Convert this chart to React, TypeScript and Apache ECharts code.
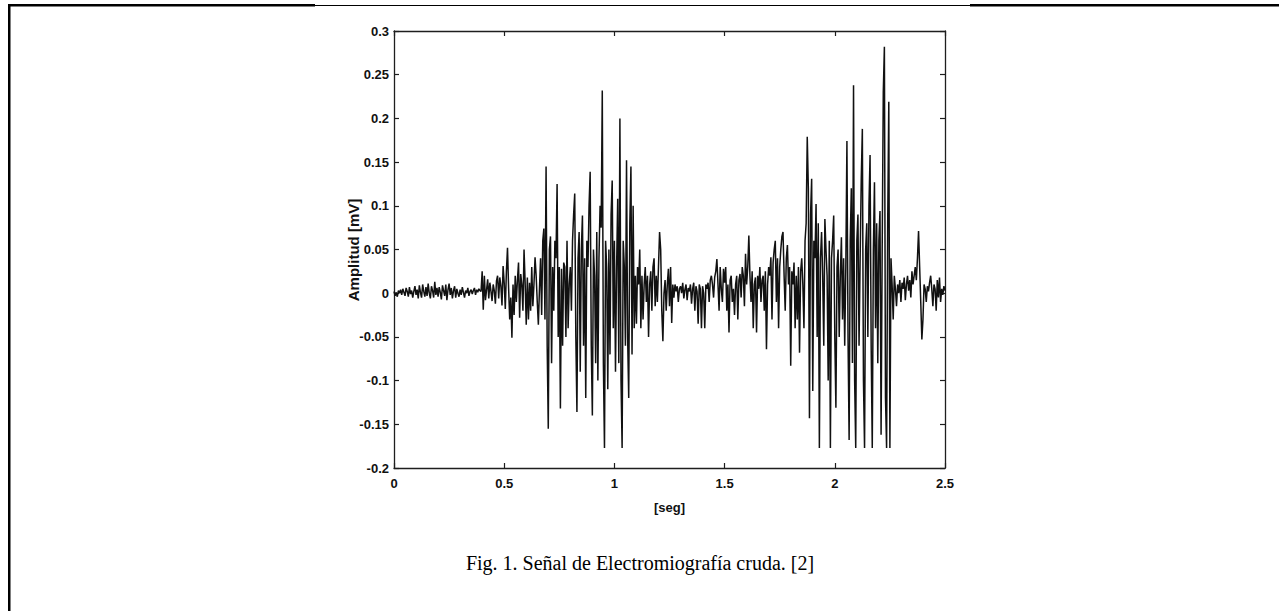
import React, { useEffect, useRef } from "react";
import * as echarts from "echarts";

// Sampled EMG signal (seconds, mV), one value every SAMPLE_STEP seconds from 0 to 2.5 s
const SAMPLE_STEP = 0.005;
const emgValues: number[] = [
  // 0.00
  0.002, -0.003, 0.001, -0.004, 0.003, 0.0, 0.004, -0.002, 0.005, 0.001,
  -0.003, 0.006, 0.002, -0.004, 0.007, -0.001, 0.003, -0.005, 0.002, 0.008,
  // 0.10
  -0.002, 0.004, -0.006, 0.009, 0.001, -0.005, 0.01, 0.002, -0.004, 0.007,
  -0.003, 0.011, 0.0, -0.006, 0.008, 0.003, -0.005, 0.013, -0.002, 0.006,
  // 0.20
  -0.004, 0.007, 0.001, -0.007, 0.009, 0.003, -0.003, 0.01, -0.008, 0.004,
  0.011, -0.002, 0.006, -0.006, 0.003, 0.008, -0.005, 0.005, 0.0, -0.004,
  // 0.30
  0.004, -0.002, 0.007, 0.001, -0.005, 0.003, 0.0, 0.006, -0.003, 0.002,
  0.004, -0.001, 0.003, 0.006, -0.002, 0.004, 0.001, 0.005, 0.003, 0.002,
  // 0.40
  0.025, -0.019, 0.02, -0.008, 0.004, 0.016, -0.006, 0.012, 0.002, -0.009,
  0.01, 0.003, -0.012, 0.014, 0.02, -0.006, 0.018, 0.008, -0.014, 0.031,
  // 0.50
  0.012, -0.018, 0.025, 0.052, 0.006, -0.03, -0.005, -0.051, 0.01, -0.025,
  0.02, -0.01, 0.015, 0.035, -0.028, 0.022, 0.01, -0.02, 0.05, 0.012,
  // 0.60
  -0.036, 0.018, -0.03, 0.012, -0.02, 0.03, -0.015, 0.01, 0.041, 0.02,
  -0.01, -0.036, 0.005, 0.04, -0.025, 0.06, 0.074, -0.03, 0.145, -0.06,
  // 0.70
  -0.155, 0.05, 0.065, -0.08, 0.03, -0.02, 0.06, 0.04, 0.125, -0.05,
  0.03, -0.132, 0.028, -0.06, 0.035, 0.03, -0.05, 0.06, -0.04, 0.01,
  // 0.80
  0.03, -0.02, 0.06, 0.09, 0.114, -0.05, -0.136, 0.04, 0.07, -0.09,
  0.05, 0.089, -0.06, 0.04, -0.12, 0.06, 0.03, 0.1, 0.139, -0.06,
  // 0.90
  -0.14, 0.05, 0.02, -0.08, 0.07, -0.1, 0.04, 0.1, 0.075, 0.232,
  -0.08, -0.177, 0.06, 0.03, -0.11, 0.05, -0.07, 0.09, 0.129, -0.04,
  // 1.00
  0.06, -0.09, 0.03, 0.108, -0.08, 0.2, -0.1, -0.177, 0.06, 0.03,
  -0.06, 0.152, -0.05, -0.12, 0.08, 0.145, -0.07, 0.1, -0.04, 0.02,
  // 1.10
  -0.035, 0.03, 0.01, 0.05, -0.04, 0.02, -0.03, 0.01, 0.03, -0.01,
  0.02, -0.05, 0.01, 0.025, -0.02, 0.03, 0.04, -0.015, 0.02, -0.01,
  // 1.20
  0.03, 0.07, 0.05, -0.02, -0.055, 0.0, 0.015, -0.02, 0.01, 0.028,
  -0.015, 0.03, -0.034, 0.01, -0.005, 0.01, 0.002, 0.008, -0.01, 0.005,
  // 1.30
  0.008, 0.0, 0.012, -0.006, 0.004, 0.01, -0.008, 0.006, 0.002, 0.01,
  -0.012, 0.005, 0.012, -0.02, 0.008, 0.002, -0.035, 0.01, 0.005, -0.04,
  // 1.40
  0.008, 0.0, -0.04, 0.01, 0.005, 0.012, -0.01, 0.015, 0.02, 0.01,
  -0.005, 0.018, 0.025, 0.039, 0.01, -0.02, 0.03, 0.005, -0.01, 0.028,
  // 1.50
  0.012, 0.03, -0.02, 0.01, -0.045, 0.015, 0.02, -0.01, 0.005, -0.025,
  0.01, 0.02, -0.03, 0.015, 0.022, -0.005, 0.03, 0.02, -0.015, 0.045,
  // 1.60
  0.01, 0.03, 0.066, 0.02, -0.01, 0.025, -0.04, 0.01, 0.018, -0.045,
  0.02, 0.005, 0.03, -0.01, 0.015, 0.02, -0.02, 0.025, -0.064, 0.01,
  // 1.70
  0.03, 0.02, 0.041, -0.03, 0.035, 0.05, 0.06, -0.01, 0.04, -0.04,
  0.03, 0.05, 0.065, 0.07, 0.02, -0.02, 0.04, 0.055, 0.01, 0.03,
  // 1.80
  -0.083, 0.025, 0.01, 0.035, -0.04, 0.02, -0.03, 0.03, -0.068, 0.025,
  0.04, 0.01, -0.04, 0.06, 0.08, 0.179, 0.12, -0.143, 0.09, 0.131,
  // 1.90
  -0.112, 0.06, 0.04, 0.102, -0.05, 0.08, -0.177, 0.04, 0.07, 0.02,
  -0.06, 0.085, 0.05, 0.02, -0.1, 0.06, -0.177, 0.04, 0.06, 0.089,
  // 2.00
  -0.05, -0.131, 0.03, 0.05, -0.05, 0.02, 0.064, -0.03, 0.04, -0.06,
  0.03, 0.174, -0.05, -0.168, 0.06, 0.12, -0.08, 0.238, -0.1, -0.177,
  // 2.10
  0.06, 0.09, -0.06, 0.04, 0.13, 0.188, -0.1, -0.177, 0.05, 0.08,
  -0.05, 0.1, 0.158, -0.06, -0.177, 0.05, 0.127, -0.04, 0.08, -0.08,
  // 2.20
  0.06, 0.094, -0.162, 0.05, 0.23, 0.282, -0.12, -0.177, 0.08, 0.219,
  -0.177, 0.04, 0.01, -0.03, 0.02, 0.005, -0.015, 0.01, 0.0, 0.015,
  // 2.30
  -0.01, 0.012, 0.005, 0.018, -0.008, 0.01, 0.02, 0.003, 0.015, -0.005,
  0.025, 0.01, 0.02, 0.03, 0.015, 0.04, 0.071, 0.03, -0.01, -0.053,
  // 2.40
  -0.03, 0.01, 0.005, -0.01, 0.008, 0.002, 0.012, 0.02, 0.005, -0.015,
  0.01, 0.005, -0.02, 0.015, -0.005, 0.018, -0.01, 0.005, -0.002, 0.008,
  // 2.50
  0.003,
];

const xRange = [0, 2.5];
const xStep = 0.5;
const yRange = [-0.2, 0.3];
const yStep = 0.05;
const xAxisName = "[seg]";
const yAxisName = "Amplitud [mV]";
const caption = "Fig. 1. Señal de Electromiografía cruda. [2]";

export default function App() {
  const ref = useRef<HTMLDivElement>(null);

  useEffect(() => {
    if (!ref.current) return;
    const chart = echarts.init(ref.current, undefined, { renderer: "svg" });
    const data = emgValues.map((v, i) => [Number((i * SAMPLE_STEP).toFixed(3)), v]);
    const axisColor = "#1e1e1e";
    const labelStyle = {
      color: "#111",
      fontFamily: "'Liberation Sans', Arial, sans-serif",
      fontSize: 13,
      fontWeight: "bold" as const,
    };
    const baseX = {
      type: "value" as const,
      min: xRange[0],
      max: xRange[1],
      interval: xStep,
      splitLine: { show: false },
      axisLine: { show: true, onZero: false, lineStyle: { color: axisColor, width: 1.3 } },
      axisTick: { show: true, inside: true, length: 5, lineStyle: { color: axisColor, width: 1.2 } },
    };
    const baseY = {
      type: "value" as const,
      min: yRange[0],
      max: yRange[1],
      interval: yStep,
      splitLine: { show: false },
      axisLine: { show: true, onZero: false, lineStyle: { color: axisColor, width: 1.3 } },
      axisTick: { show: true, inside: true, length: 5, lineStyle: { color: axisColor, width: 1.2 } },
    };
    chart.setOption({
      animation: false,
      grid: { left: 394, top: 31, width: 551, height: 437 },
      xAxis: [
        {
          ...baseX,
          position: "bottom",
          axisLabel: { ...labelStyle, margin: 9 },
          name: xAxisName,
          nameLocation: "middle",
          nameGap: 33,
          nameTextStyle: { ...labelStyle, fontSize: 13 },
        },
        { ...baseX, position: "top", axisLabel: { show: false } },
      ],
      yAxis: [
        {
          ...baseY,
          position: "left",
          axisLabel: { ...labelStyle, margin: 5 },
        },
        { ...baseY, position: "right", axisLabel: { show: false } },
      ],
      series: [
        {
          type: "line",
          data,
          xAxisIndex: 0,
          yAxisIndex: 0,
          symbol: "none",
          showSymbol: false,
          lineStyle: { color: "#111", width: 1.5 },
        },
      ],
      graphic: [
        { type: "rect", shape: { x: 8, y: 4, width: 2.5, height: 620 }, style: { fill: "#000" } },
        { type: "rect", shape: { x: 8, y: 4, width: 307, height: 2.5 }, style: { fill: "#000" } },
        { type: "rect", shape: { x: 315, y: 5, width: 655, height: 1 }, style: { fill: "#000" } },
        { type: "rect", shape: { x: 970, y: 4, width: 309, height: 2.5 }, style: { fill: "#000" } },
        {
          type: "text",
          x: 353,
          y: 250,
          rotation: Math.PI / 2,
          style: {
            text: yAxisName,
            fill: "#111",
            font: "bold 15px 'Liberation Sans', Arial, sans-serif",
            textAlign: "center",
            textVerticalAlign: "middle",
          },
        },
        {
          type: "text",
          x: 640,
          y: 563,
          style: {
            text: caption,
            fill: "#000",
            font: "20px 'Liberation Serif', 'Times New Roman', serif",
            textAlign: "center",
            textVerticalAlign: "middle",
          },
        },
      ],
    });
    return () => chart.dispose();
  }, []);

  return (
    <div
      ref={ref}
      style={{ position: "fixed", left: 0, top: 0, width: 1279, height: 611, background: "#fff" }}
    />
  );
}
